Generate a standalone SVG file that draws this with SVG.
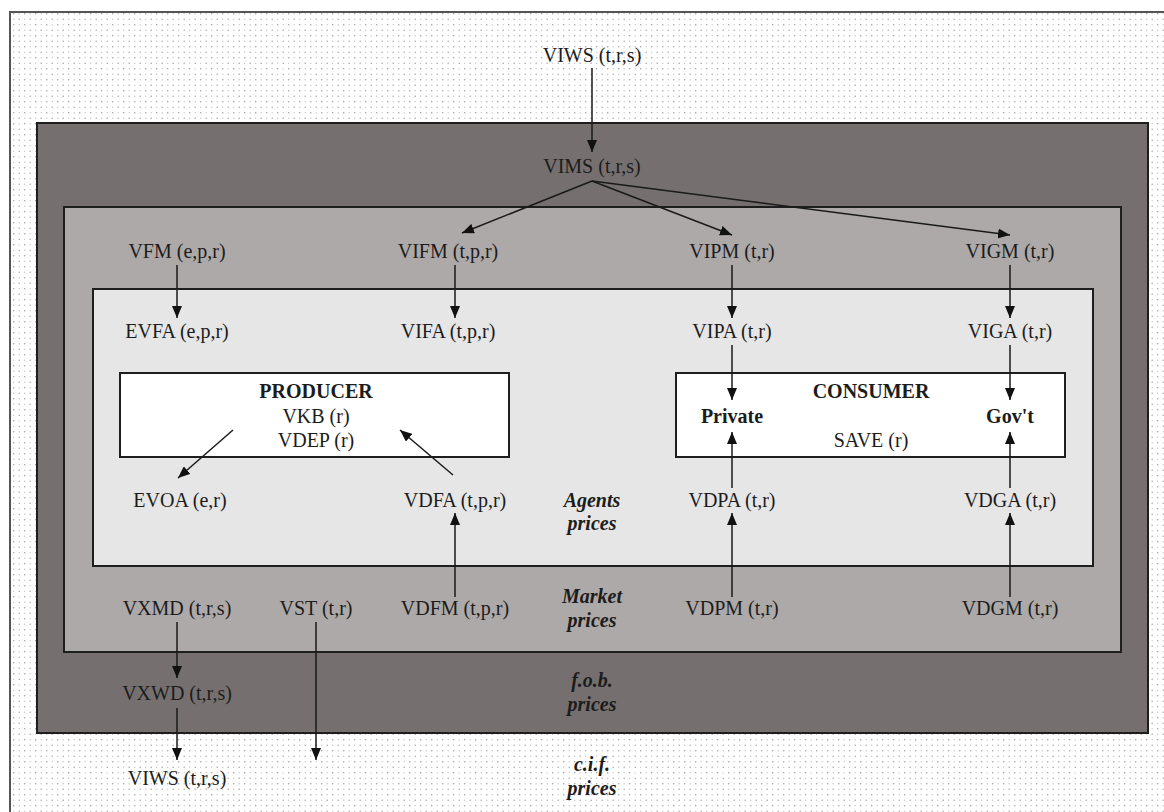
<svg xmlns="http://www.w3.org/2000/svg" width="1164" height="812" viewBox="0 0 1164 812">
  <defs>
    <pattern id="dots" width="11" height="11" patternUnits="userSpaceOnUse">
      <circle cx="2.7" cy="2.7" r="0.8" fill="#a0a0a0"/>
      <circle cx="8.2" cy="2.7" r="0.7" fill="#c6c6c6"/>
      <circle cx="2.7" cy="8.2" r="0.7" fill="#c6c6c6"/>
      <circle cx="8.2" cy="8.2" r="0.8" fill="#a8a8a8"/>
    </pattern>
    <marker id="arr" viewBox="0 0 12 10" refX="12" refY="5" markerWidth="12" markerHeight="10" markerUnits="userSpaceOnUse" orient="auto">
      <path d="M0,0 L12,5 L0,10 z" fill="#111"/>
    </marker>
  </defs>
  <style>
    .lbl { font-family: "Liberation Serif", "Times New Roman", serif; font-size: 20px; fill: #1c1c1c; text-anchor: middle; }
    .bold { font-weight: bold; }
    .zone { font-family: "Liberation Serif", "Times New Roman", serif; font-size: 20px; font-weight: bold; font-style: italic; fill: #1c1c1c; text-anchor: middle; }
    .box { stroke: #1e1e1e; stroke-width: 2; }
    .link { stroke: #1a1a1a; stroke-width: 1.5; fill: none; marker-end: url(#arr); }
  </style>

  <!-- page background and dotted frame -->
  <rect x="0" y="0" width="1164" height="812" fill="#ffffff"/>
  <rect x="10" y="12" width="1170" height="820" fill="url(#dots)" stroke="#555" stroke-width="2"/>

  <!-- nested price layers -->
  <g id="fob-layer">
    <rect class="box" x="37" y="123" width="1111" height="610" fill="#75706f"/>
  </g>
  <g id="market-layer">
    <rect class="box" x="64" y="207" width="1057" height="445" fill="#ada9a8"/>
  </g>
  <g id="agents-layer">
    <rect class="box" x="93" y="289" width="1000" height="277" fill="#e6e6e6" stroke-width="1.5"/>
  </g>

  <!-- world / import flows -->
  <g id="viws-top"><text class="lbl" x="592" y="62">VIWS (t,r,s)</text></g>
  <g id="vims"><text class="lbl" x="592" y="173">VIMS (t,r,s)</text></g>

  <!-- market price row -->
  <g id="vfm"><text class="lbl" x="177" y="258">VFM (e,p,r)</text></g>
  <g id="vifm"><text class="lbl" x="448" y="258">VIFM (t,p,r)</text></g>
  <g id="vipm"><text class="lbl" x="732" y="258">VIPM (t,r)</text></g>
  <g id="vigm"><text class="lbl" x="1010" y="258">VIGM (t,r)</text></g>

  <!-- agent price row -->
  <g id="evfa"><text class="lbl" x="177" y="338">EVFA (e,p,r)</text></g>
  <g id="vifa"><text class="lbl" x="448" y="338">VIFA (t,p,r)</text></g>
  <g id="vipa"><text class="lbl" x="732" y="338">VIPA (t,r)</text></g>
  <g id="viga"><text class="lbl" x="1010" y="338">VIGA (t,r)</text></g>

  <!-- producer -->
  <g id="producer">
    <rect class="box" x="120" y="373" width="389" height="84" fill="#ffffff"/>
    <text class="lbl bold" x="316" y="398">PRODUCER</text>
    <text class="lbl" x="316" y="423">VKB (r)</text>
    <text class="lbl" x="316" y="447">VDEP (r)</text>
  </g>

  <!-- consumer -->
  <g id="consumer">
    <rect class="box" x="676" y="373" width="389" height="84" fill="#ffffff"/>
    <text class="lbl bold" x="871" y="398">CONSUMER</text>
    <text class="lbl bold" x="732" y="423">Private</text>
    <text class="lbl bold" x="1010" y="423">Gov't</text>
    <text class="lbl" x="871" y="447">SAVE (r)</text>
  </g>

  <!-- domestic agent row -->
  <g id="evoa"><text class="lbl" x="180" y="507">EVOA (e,r)</text></g>
  <g id="vdfa"><text class="lbl" x="455" y="507">VDFA (t,p,r)</text></g>
  <g id="vdpa"><text class="lbl" x="732" y="507">VDPA (t,r)</text></g>
  <g id="vdga"><text class="lbl" x="1010" y="507">VDGA (t,r)</text></g>

  <!-- domestic market row -->
  <g id="vxmd"><text class="lbl" x="177" y="615">VXMD (t,r,s)</text></g>
  <g id="vst"><text class="lbl" x="316" y="615">VST (t,r)</text></g>
  <g id="vdfm"><text class="lbl" x="455" y="615">VDFM (t,p,r)</text></g>
  <g id="vdpm"><text class="lbl" x="732" y="615">VDPM (t,r)</text></g>
  <g id="vdgm"><text class="lbl" x="1010" y="615">VDGM (t,r)</text></g>

  <!-- exports -->
  <g id="vxwd"><text class="lbl" x="177" y="700">VXWD (t,r,s)</text></g>
  <g id="viws-bottom"><text class="lbl" x="177" y="785">VIWS (t,r,s)</text></g>

  <!-- price layer captions -->
  <g id="captions">
    <text class="zone" x="592" y="507">Agents</text>
    <text class="zone" x="592" y="530">prices</text>
    <text class="zone" x="592" y="603">Market</text>
    <text class="zone" x="592" y="627">prices</text>
    <text class="zone" x="592" y="687">f.o.b.</text>
    <text class="zone" x="592" y="711">prices</text>
    <text class="zone" x="592" y="771">c.i.f.</text>
    <text class="zone" x="592" y="795">prices</text>
  </g>

  <!-- connectors, drawn over the boxes -->
  <g id="connectors">
    <line class="link" x1="592" y1="68" x2="592" y2="152"/>
    <line class="link" x1="592" y1="181" x2="462" y2="233"/>
    <line class="link" x1="592" y1="181" x2="732" y2="235"/>
    <line class="link" x1="592" y1="181" x2="1010" y2="235"/>
    <line class="link" x1="177" y1="265" x2="177" y2="318"/>
    <line class="link" x1="455" y1="265" x2="455" y2="318"/>
    <line class="link" x1="732" y1="265" x2="732" y2="318"/>
    <line class="link" x1="1010" y1="265" x2="1010" y2="318"/>
    <line class="link" x1="732" y1="345" x2="732" y2="400"/>
    <line class="link" x1="1010" y1="345" x2="1010" y2="400"/>
    <line class="link" x1="233" y1="430" x2="178" y2="478"/>
    <line class="link" x1="453" y1="475" x2="400" y2="430"/>
    <line class="link" x1="732" y1="488" x2="732" y2="432"/>
    <line class="link" x1="1010" y1="488" x2="1010" y2="432"/>
    <line class="link" x1="455" y1="597" x2="455" y2="513"/>
    <line class="link" x1="732" y1="597" x2="732" y2="513"/>
    <line class="link" x1="1010" y1="597" x2="1010" y2="513"/>
    <line class="link" x1="177" y1="622" x2="177" y2="678"/>
    <line class="link" x1="177" y1="708" x2="177" y2="760"/>
    <line class="link" x1="316" y1="622" x2="316" y2="760"/>
  </g>
</svg>
